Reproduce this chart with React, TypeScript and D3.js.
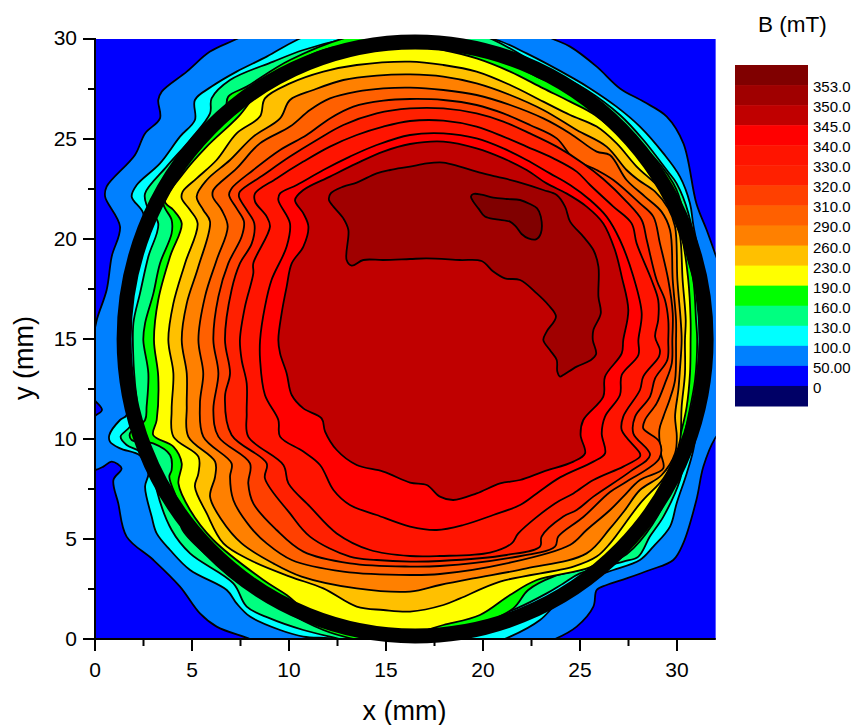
import React from "react";
import * as d3 from "d3";

type P = [number, number];

const legendLabels = ["353.0","350.0","345.0","340.0","330.0","320.0","310.0","290.0","260.0","230.0","190.0","160.0","130.0","100.0","50.00","0"];
const legendColors = ["#800000","#a00000","#c00000","#ff0000","#ff1400","#ff2000","#ff4000","#ff6000","#ff8000","#ffc000","#ffff00","#00ff00","#00ff80","#00ffff","#0080ff","#0000ff","#000066"];
const xTicks = [0,5,10,15,20,25,30];
const yTicks = [0,5,10,15,20,25,30];
const xMinor = [2.5,7.5,12.5,17.5,22.5,27.5];
const yMinor = [2.5,7.5,12.5,17.5,22.5,27.5];

const c50: P[] = [[-0.43,8.45],[0,8.45],[0.43,8.62],[0.86,8.87],[1.37,8.53],[0.95,7.95],[1.2,6.78],[1.63,5.12],[3.01,3.95],[4.38,2.62],[5.41,1.28],[6.27,0.62],[7.99,0],[9.36,-0.55],[15,-1.2],[21.4,-0.72],[23.71,0],[24.83,0.62],[25.69,1.62],[25.86,2.45],[26.37,2.7],[27.4,3.03],[28.6,3.45],[29.81,3.95],[30.32,4.78],[31,6.95],[31.36,8.62],[31.96,10.03],[32.73,10.95],[33,14],[32.73,17.12],[31.96,19.28],[31.53,20.45],[31,21.78],[30.33,24.78],[29.47,26.12],[28.27,26.87],[27.06,27.53],[25.86,28.62],[24.49,29.62],[23.54,30.03],[22.25,30.62],[16,31.5],[10.05,31.28],[7.3,30],[5.93,29.37],[4.73,28.37],[3.44,27.37],[3.26,26.95],[3.35,26.03],[2.58,25.28],[2.06,24.2],[0.6,22.62],[0.52,22.12],[1.29,20.62],[0.86,19.12],[0.6,17.45],[0.09,15.95],[-0.09,14.95],[-0.09,13.28],[-0.12,12.12],[0.36,11.45],[-0.12,11.03],[-0.09,9.95]];
const c100: P[] = [[2.32,9.17],[1.29,9.53],[0.77,9.87],[0.74,10.2],[1.29,10.95],[1.63,11.2],[1.55,13.28],[1.63,14.95],[1.8,17.12],[2.49,19.78],[2.49,21.28],[1.89,22.12],[2.15,22.7],[3.35,23.78],[4.38,25.12],[5.15,25.95],[5.15,26.95],[6.01,27.62],[7.3,28.37],[8.85,29.12],[10.4,29.95],[12.11,30.62],[16.24,31.12],[19.33,30.12],[20.7,29.95],[22.25,29.28],[24.66,28.03],[25.52,27.53],[26.88,26.62],[28.09,25.62],[29.3,24.28],[30.15,23.12],[30.67,21.78],[30.84,20.7],[31.36,17.95],[31.44,14.95],[31.18,11.62],[30.84,9.45],[30.5,8.28],[29.98,6.78],[29.64,5.62],[28.78,4.62],[28.09,3.95],[26.72,3.45],[26.2,3.28],[24.83,2.78],[23.71,1.7],[22.94,0.95],[21.4,0.12],[19.33,-0.55],[16.24,-1.05],[14.18,-0.55],[12.46,0],[10.74,0.12],[9.54,0.45],[7.99,1.12],[7.3,1.78],[6.79,2.45],[4.9,3.45],[3.87,4.45],[3.18,5.28],[2.92,6.12],[2.58,7.62],[2.75,8.28]];
const c130: P[] = [[2.32,9.37],[1.63,9.7],[1.32,10.12],[1.8,10.62],[2.15,11.62],[2.06,12.78],[1.98,13.95],[1.98,15.8],[2.32,17.28],[2.75,19.12],[3.26,20.78],[2.66,21.7],[2.58,22.28],[3.69,23.62],[4.9,24.95],[5.93,26.28],[6.01,27.03],[6.96,27.95],[9.19,28.87],[10.74,29.45],[12.8,29.98],[16.24,30.45],[19.67,30.28],[22.75,28.78],[25.34,27.45],[27.06,26.2],[28.27,24.95],[29.47,23.45],[29.98,22.78],[30.59,21.28],[31.1,18.5],[31.25,16],[31.19,14.95],[31,12.95],[30.67,10.78],[30.15,7.95],[29.3,6.12],[28.6,5.12],[28.01,4.12],[27.23,3.87],[25,3.28],[24.14,2.78],[23.28,2.28],[21.74,1.53],[19.67,0.78],[17.96,-0.38],[16.24,-0.88],[14.35,-0.4],[12.63,0],[10.74,0.45],[9.02,1.03],[7.82,1.62],[7.13,2.78],[4.9,4.28],[3.95,5.45],[3.18,7.45],[3,8.62]];
const c160: P[] = [[2.49,14.95],[2.75,13.28],[2.66,11.62],[2.58,10.95],[1.8,10.28],[1.89,9.95],[3,9.78],[3.87,9.2],[3.95,8.45],[3.83,8.12],[4.35,6.62],[4.47,5.53],[5.84,4.12],[7.47,2.78],[11.77,0.45],[14,-0.13],[16.24,-0.38],[17.96,-0.05],[19.67,0.62],[21.56,1.53],[22.33,2.45],[23.63,3.12],[25,3.45],[27.06,4.03],[27.75,4.53],[29.03,6.2],[29.81,7.95],[30.58,11.12],[30.93,12.95],[31.04,14.95],[30.98,15.95],[30.84,17.95],[30.5,19.28],[30.3,21.45],[29.81,22.78],[28.27,24.62],[24.31,27.45],[22.77,28.12],[19.67,29.7],[16.24,30.37],[13.49,30.2],[10.05,28.95],[7.82,27.62],[6.87,27.12],[6.7,26.45],[4.9,24.78],[3.87,23.12],[3.52,21.78],[3.95,20.95],[3.95,20.28],[3.35,18.78],[3.01,17.28],[2.58,15.78]];
const c190: P[] = [[3.04,14.95],[3.26,16.95],[3.87,19.12],[4.47,20.78],[4.04,21.45],[3.61,21.87],[4.55,23.28],[5.76,24.62],[7.39,26.12],[8.68,27.62],[11.77,29.45],[16.24,29.7],[17.96,29.45],[19.67,29.03],[21.4,28.37],[23.11,27.53],[24.49,26.87],[25.77,26.2],[27.4,24.78],[29.3,22.62],[30.24,20.12],[30.58,17.95],[30.7,15.95],[30.7,14.95],[30.67,13.28],[30.5,11.62],[30.24,10.45],[29.64,8.28],[29.12,7.13],[28.6,6.45],[27.5,5.2],[26.7,4.3],[25.51,3.58],[22.77,2.95],[21.39,2.2],[19.84,1.2],[17.96,0.7],[16.24,0.28],[11.77,0.78],[9.88,2.2],[8.68,2.95],[6.1,4.95],[4.9,6.45],[4.3,7.78],[4.47,8.78],[4.04,9.62],[3,10.2],[3.18,10.95],[3.26,13.12]];
const c230: P[] = [[3.78,14.95],[4.04,16.78],[4.64,18.78],[5.29,20.78],[4.9,21.45],[4.47,22.03],[4.52,22.37],[5.24,23.03],[6.27,23.95],[7.3,25.28],[8.5,26.12],[8.76,27.03],[10.05,27.78],[11.77,28.37],[13.49,28.7],[16.24,28.87],[17.96,28.7],[19.67,28.37],[21.4,27.7],[23.11,26.87],[24.49,26.2],[25.86,25.62],[26.89,24.78],[27.92,23.62],[29.03,22.62],[29.6,21.8],[29.95,20.78],[30.16,20.12],[30.29,17.95],[30.45,15.95],[30.41,14.95],[30.41,13.28],[30.24,11.62],[30.16,9.95],[29.9,9.12],[29.3,8.03],[28.1,6.78],[26.55,4.78],[25.86,4.12],[24.66,3.62],[20.88,2.87],[18.82,2.03],[17.96,1.7],[16.24,1.37],[14.86,1.45],[13.49,1.62],[11.77,2.53],[10.05,3.12],[7.99,3.95],[6.62,4.78],[5.76,6.28],[5.15,7.62],[5.33,8.28],[5.33,9.12],[4.04,10.12],[3.95,11.45],[4.04,13.28]];
const c260: P[] = [[4.47,14.95],[4.73,16.78],[5.33,18.62],[5.93,20.87],[5.58,21.45],[5.24,22.12],[5.76,22.95],[6.96,23.95],[8.16,25.12],[9.54,26.03],[10.05,26.95],[11.25,27.45],[12.8,27.95],[14.52,28.17],[16.24,28.23],[17.96,28.12],[19.67,27.78],[21.4,27.2],[23.11,26.45],[24.83,25.45],[26.37,24.62],[27.4,23.45],[28.01,22.95],[28.87,22.37],[29.55,21.53],[29.9,20.62],[30.02,17.95],[30.19,15.95],[30.24,14.95],[30.15,13.45],[30.07,12.45],[29.9,11.12],[29.99,10.12],[29.9,9.28],[29.21,8.2],[28.09,7.45],[27.32,6.45],[26.55,5.53],[25.34,4.28],[22.25,3.53],[19.5,3.03],[17.78,2.7],[16.24,2.37],[13.49,2.53],[10.65,3.12],[9.19,3.78],[7.56,4.78],[6.53,5.95],[5.93,7.12],[6.19,8.12],[6.19,8.87],[4.81,10.12],[4.73,11.62],[4.73,13.28]];
const c290: P[] = [[5.33,14.95],[5.67,17.12],[6.27,18.95],[6.84,20.62],[6.53,21.45],[6.07,22.12],[6.1,22.45],[7.3,23.53],[8.5,24.78],[10.05,25.62],[11.08,26.45],[12.11,27.03],[13.49,27.37],[14.86,27.53],[16.24,27.57],[17.96,27.45],[19.67,27.2],[21.4,26.7],[23.11,26.03],[24.49,25.28],[25.86,24.37],[26.54,24.2],[27.4,22.95],[28.35,22.12],[29.2,21.37],[29.64,20.45],[29.78,17.95],[29.95,15.95],[29.95,14.95],[29.9,12.95],[29.64,12.03],[29.3,11.12],[29.09,10.45],[29.17,9.28],[29.29,8.53],[28.09,7.95],[27.23,7.12],[26.55,6.45],[25.34,5.45],[24.48,4.7],[21.22,3.78],[17.78,3.25],[16.24,3.2],[12.8,3.37],[10.14,3.95],[8.85,4.78],[7.99,5.62],[7.13,6.95],[6.96,8.12],[7.04,8.78],[5.58,10.12],[5.41,11.78],[5.58,13.28]];
const c310: P[] = [[6.1,14.95],[6.36,17.12],[6.87,18.78],[7.56,20.12],[7.68,20.87],[7.3,21.53],[6.91,22.2],[7.04,22.53],[8.16,23.45],[9.54,24.45],[10.91,25.2],[12.11,26.03],[13.32,26.62],[14.86,26.92],[16.24,27],[17.96,26.95],[19.67,26.7],[21.05,26.28],[22.42,25.7],[23.8,25.03],[24.66,24.03],[25.86,23.45],[26.72,22.95],[28.09,21.78],[28.78,21.12],[29.12,19.78],[29.55,17.95],[29.78,16.28],[29.76,14.95],[29.73,13.78],[29.38,12.78],[28.95,11.78],[28.35,10.95],[28.26,10.53],[29.09,9.87],[29.09,9.03],[27.41,7.87],[26.55,7.35],[25.17,6.1],[23.88,5.12],[23.71,4.62],[21.22,4.03],[17.78,3.65],[16.24,3.62],[13.14,3.78],[10.74,4.37],[9.36,5.45],[8.16,6.78],[7.9,7.78],[7.99,8.78],[6.36,10.12],[6.1,11.45],[6.36,13.28]];
const c320: P[] = [[6.7,14.95],[7.04,17.45],[7.47,18.78],[8.08,19.78],[8.21,20.78],[7.82,21.45],[7.42,22.12],[7.47,22.37],[8.68,23.2],[10.05,24.12],[11.43,24.95],[12.8,25.7],[14.52,26.28],[16.24,26.53],[17.96,26.53],[19.67,26.28],[21.05,25.87],[22.42,25.28],[23.8,24.62],[25.17,23.78],[26.2,23],[27.4,21.87],[28.18,20.95],[28.44,19.95],[28.95,17.95],[29.38,16.95],[29.55,15.95],[29.55,14.95],[29.5,13.95],[28.87,13.03],[28.61,12.12],[27.84,11.12],[27.75,10.28],[28.61,9.2],[27.58,8.37],[25.69,7.12],[24.83,6.45],[24.14,6.12],[23.02,5.12],[22.94,4.62],[21.22,4.2],[17.78,3.9],[16.24,3.87],[14.52,3.95],[13.14,4.12],[11.08,5.12],[10.05,6.28],[8.76,8.03],[8.85,8.78],[7.04,10.2],[6.7,12.12],[6.96,13.28]];
const c330: P[] = [[7.47,14.95],[7.73,16.62],[8.16,18.28],[8.16,18.78],[9.02,20.62],[8.85,21.12],[8.25,21.87],[8.25,22.28],[9.36,23.03],[10.74,23.87],[12.11,24.62],[13.49,25.2],[14.86,25.62],[16.24,25.9],[17.96,25.92],[19.67,25.62],[21.05,25.12],[22.25,24.62],[23.63,24.03],[24.83,23.37],[25.52,22.7],[26.72,21.62],[27.66,20.78],[27.92,19.78],[28.69,17.95],[29.03,16.95],[29.03,15.95],[28.87,15.12],[29.12,14.45],[29.07,14.12],[28.26,13.12],[28.09,12.45],[27.23,11.12],[27.15,10.45],[28.09,9.28],[28.09,9.12],[27.23,8.62],[25.69,7.95],[24.66,7.28],[23.71,6.78],[21.82,5.28],[21.48,4.78],[20.36,4.32],[17.78,4.15],[16.24,4.15],[14.18,4.45],[12.46,5.28],[11.08,6.62],[9.97,7.78],[9.71,8.7],[7.9,10.12],[7.82,11.28],[7.82,12.78],[7.56,13.95]];
const c340: P[] = [[8.51,14.95],[8.76,16.62],[9.1,17.95],[9.88,19.62],[10.05,20.78],[9.45,21.95],[9.54,22.28],[10.4,22.7],[11.77,23.45],[13.14,24.12],[14.52,24.7],[16.24,25.2],[17.96,25.28],[19.67,25.03],[21.05,24.53],[22.25,23.95],[23.45,23.28],[24.49,22.7],[25.52,21.95],[26.37,21.12],[27.06,19.95],[27.75,18.12],[28.18,16.28],[28.01,14.95],[28.01,14.2],[27.15,13.2],[27.06,12.2],[26.29,11.12],[26.12,10.28],[26.29,9.28],[25.69,8.87],[23.97,8.08],[22.77,7.28],[21.91,6.7],[20.53,6.2],[18.99,5.7],[17.61,5.45],[16.24,5.62],[14.52,6.2],[13.14,6.7],[12.29,7.45],[11.6,8.7],[10.74,9.37],[9.54,10.12],[9.45,10.95],[8.76,12.2],[8.51,13.95]];
const c345: P[] = [[9.45,14.95],[9.62,16.28],[9.88,17.62],[10.14,18.78],[10.74,19.62],[11,20.62],[10.74,21.28],[10.31,21.95],[10.74,22.45],[12.11,23.12],[13.49,23.78],[14.86,24.37],[16.24,24.75],[17.96,24.87],[19.67,24.53],[21.05,24.03],[22.25,23.45],[23.28,22.78],[24.3,22.28],[25.34,21.62],[26.2,20.78],[26.8,19.45],[27.15,18.12],[27.49,16.45],[27.23,14.95],[27.15,14.28],[26.29,13.12],[26.2,12.12],[25.17,10.95],[25.03,10.2],[25.26,9.28],[24.66,8.87],[23.11,8.37],[21.91,7.95],[20.88,7.78],[19.67,7.28],[18.47,6.95],[17.78,7.12],[17.1,7.7],[16.24,7.82],[14.86,8.37],[13.49,8.7],[12.46,9.45],[11.86,10.37],[11.68,11.03],[10.74,11.53],[10.14,12.2],[9.88,13.28],[9.54,14.28]];
const c350: P[] = [[12.06,21.95],[12.15,22.28],[12.8,22.62],[13.49,22.82],[14.52,23.28],[15.21,23.45],[16.24,23.62],[17.1,23.78],[17.95,23.82],[18.81,23.62],[19.67,23.37],[20.7,23.12],[21.74,22.87],[23.11,22.45],[23.8,22.2],[24.23,21.62],[24.49,20.87],[25.17,20.12],[25.69,19.45],[25.95,18.62],[25.95,17.12],[26.07,16.28],[25.69,15.45],[25.66,14.95],[25.83,14.25],[25.52,13.92],[24.83,13.62],[24.14,13.2],[23.97,13.12],[23.83,13.37],[23.8,13.95],[23.45,14.45],[23.11,14.95],[23.28,15.37],[23.76,16.12],[23.37,16.7],[22.77,17.28],[21.91,17.95],[21.13,18.03],[20.53,18.37],[19.93,18.9],[18.81,18.95],[17.1,19.03],[16.24,19],[14.86,18.95],[13.83,18.95],[13.23,18.67],[12.97,18.95],[13.06,20.45],[12.8,21.03],[12.29,21.62]];
const c353: P[] = [[19.38,22.12],[19.5,22.25],[19.93,22.22],[20.53,22.07],[21.22,22],[21.91,21.95],[22.42,21.75],[22.79,21.53],[22.98,21.12],[22.98,20.28],[22.73,19.98],[22.34,20.03],[21.99,20.25],[21.7,20.62],[21.39,20.87],[20.7,20.98],[20.1,21.12],[19.76,21.53],[19.5,21.87]];

const contours: P[][] = [c50,c100,c130,c160,c190,c230,c260,c290,c310,c320,c330,c340,c345,c350,c353];
const fills = ["#0080ff","#00ffff","#00ff80","#00ff00","#ffff00","#ffc000","#ff8000","#ff6000","#ff4000","#ff2000","#ff1400","#ff0000","#c00000","#a00000","#800000"];

const ringCenter: P = [16.5, 15];
const ringRadius: P = [15, 14.85];

const x = d3.scaleLinear().domain([0, 32]).range([95, 715.8]);
const y = d3.scaleLinear().domain([0, 30]).range([639, 39]);
const legendY = d3.scaleBand<number>().domain(d3.range(legendColors.length)).range([65, 406]);
const shape = d3.line<P>().x(d => x(d[0])).y(d => y(d[1])).curve(d3.curveCatmullRomClosed.alpha(0.5));
const FONT = "'Liberation Sans', Arial, sans-serif";

export default function App() {
  return (
    <svg width={852} height={725} style={{ position: "absolute", left: 0, top: 0, background: "#fff" }} fontFamily={FONT}>
      <defs>
        <clipPath id="plot"><rect x={x(0)} y={y(30)} width={x(32) - x(0)} height={y(0) - y(30)} /></clipPath>
      </defs>
      <g clipPath="url(#plot)">
        <rect x={x(0)} y={y(30)} width={x(32) - x(0)} height={y(0) - y(30)} fill="#0000ff" />
        {contours.map((c, i) => (
          <path key={i} d={shape(c) ?? ""} fill={fills[i]} stroke="#000" strokeWidth={1.8} strokeLinejoin="round" />
        ))}
      </g>
      <ellipse cx={x(ringCenter[0])} cy={y(ringCenter[1])} rx={x(ringRadius[0]) - x(0)} ry={y(0) - y(ringRadius[1])} fill="none" stroke="#000" strokeWidth={15} />
      <g stroke="#000" strokeWidth={2} fill="none">
        <line x1={x(0)} x2={x(0)} y1={y(30) - 1} y2={y(0) + 1} />
        <line x1={x(0)} x2={x(32)} y1={y(0)} y2={y(0)} />
        {xTicks.map(t => <line key={t} x1={x(t)} x2={x(t)} y1={y(0)} y2={y(0) + 12} />)}
        {xMinor.map(t => <line key={t} x1={x(t)} x2={x(t)} y1={y(0)} y2={y(0) + 7} />)}
        {yTicks.map(t => <line key={t} x1={x(0) - 12} x2={x(0)} y1={y(t)} y2={y(t)} />)}
        {yMinor.map(t => <line key={t} x1={x(0) - 7} x2={x(0)} y1={y(t)} y2={y(t)} />)}
      </g>
      <g fontSize={21} fill="#000">
        {xTicks.map(t => <text key={t} x={x(t)} y={y(0) + 38} textAnchor="middle">{t}</text>)}
        {yTicks.map(t => <text key={t} x={x(0) - 18} y={y(t) + 7 - (t === 30 ? 1.5 : 0)} textAnchor="end">{t}</text>)}
      </g>
      <text x={404.5} y={720} fontSize={27} textAnchor="middle">x (mm)</text>
      <text transform="translate(33,358) rotate(-90)" fontSize={27} textAnchor="middle">y (mm)</text>
      <text x={758} y={32} fontSize={22.5}>B (mT)</text>
      {legendColors.map((c, i) => (
        <rect key={c} x={735} y={legendY(i)} width={73} height={legendY.bandwidth() + 0.5} fill={c} />
      ))}
      {legendLabels.map((l, i) => (
        <text key={l} x={813} y={(legendY(i) ?? 0) + legendY.bandwidth() + 7} fontSize={15} fill="#000">{l}</text>
      ))}
    </svg>
  );
}
